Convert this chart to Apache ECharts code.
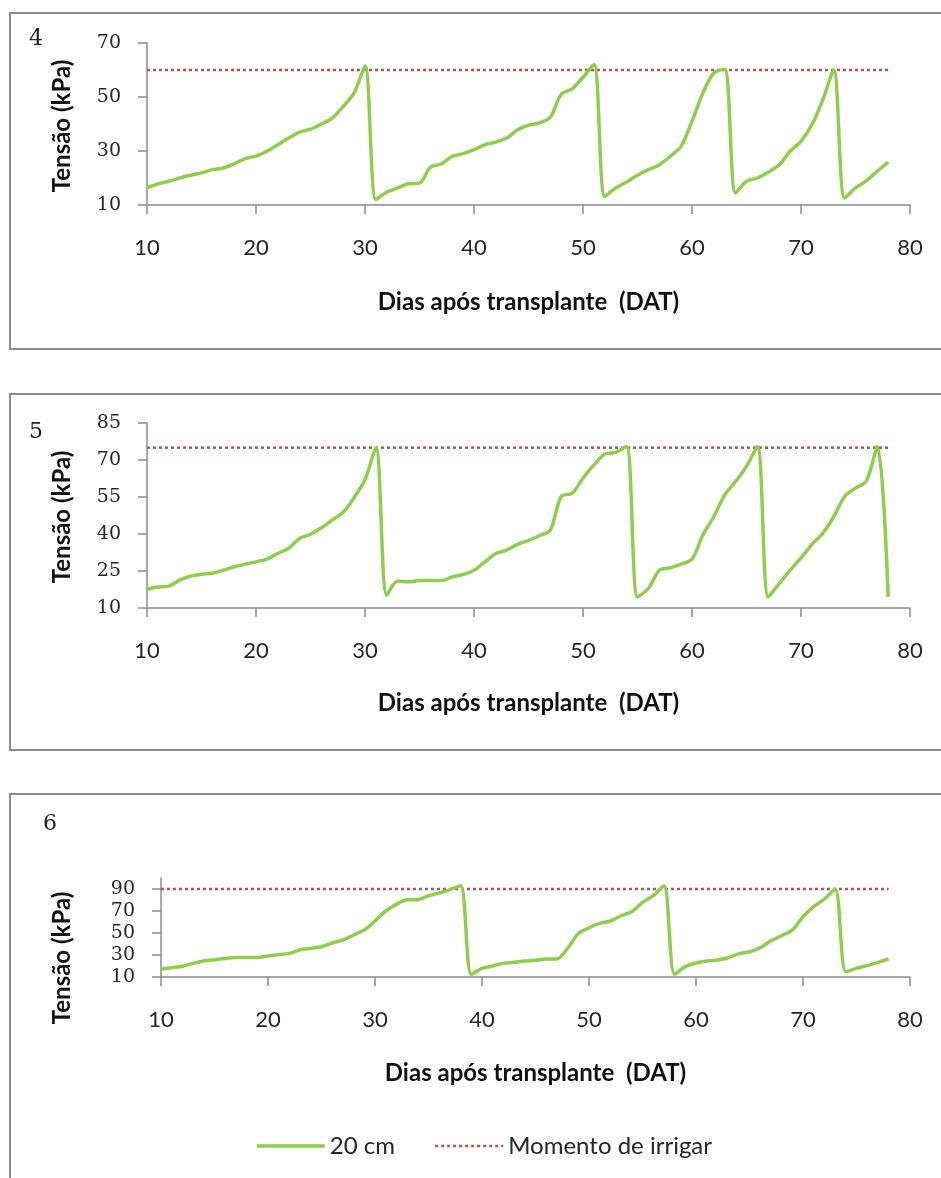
<!DOCTYPE html>
<html>
<head>
<meta charset="utf-8">
<title>Tensão</title>
<script src="https://cdn.jsdelivr.net/npm/echarts@6/dist/echarts.min.js"></script>
<style>
  html, body { margin: 0; padding: 0; background: #fff; }
  #chart { width: 941px; height: 1178px; }
</style>
</head>
<body>
<div id="chart"></div>
<script>
// dias apos transplante
var days = [10, 11, 12, 13, 14, 15, 16, 17, 18, 19, 20, 21, 22, 23, 24, 25, 26, 27, 28, 29,
            30, 31, 32, 33, 34, 35, 36, 37, 38, 39, 40, 41, 42, 43, 44, 45, 46, 47, 48, 49,
            50, 51, 52, 53, 54, 55, 56, 57, 58, 59, 60, 61, 62, 63, 64, 65, 66, 67, 68, 69,
            70, 71, 72, 73, 74, 75, 76, 77, 78];

// tensao (kPa) a 20 cm, um array por grafico
var tensao4 = [16.3, 17.8, 18.8, 20, 21, 21.9, 23.1, 23.7, 25.2, 27.2, 28.1, 29.9, 32.3, 34.8, 37, 38.1, 40, 42.2, 46.5, 51.5,
               61.5, 12, 14.8, 16.3, 17.9, 18.1, 24, 25.2, 28, 29, 30.5, 32.3, 33.3, 34.8, 37.9, 39.5, 40.4, 42.5, 51, 53,
               57.3, 62, 13.2, 16.3, 18.5, 21, 23.1, 24.9, 28, 31.7, 41, 51.5, 58.9, 60.3, 14.4, 18.8, 20, 22.2, 24.9, 29.9,
               33.6, 39.7, 49, 60, 12.6, 16.3, 19, 22.5, 25.9];
var tensao5 = [17.6, 18.5, 18.9, 21.3, 22.9, 23.7, 24.1, 25.3, 26.7, 27.8, 28.7, 29.8, 32.1, 34.2, 38.2, 39.9, 42.5, 45.7, 48.8, 54.8,
               62, 75, 15.2, 20.9, 20.6, 21.1, 21.1, 21.1, 22.6, 23.6, 25.3, 28.7, 32.1, 33.5, 35.8, 37.4, 39.3, 41.6, 55.2, 56.5,
               62.6, 68, 72.4, 73.1, 75.5, 14.5, 17.9, 25.3, 26.3, 27.8, 29.8, 39.6, 47, 55.8, 61.3, 67.4, 75.5, 14.5, 19.9, 25.3,
               30.3, 35.8, 40.3, 47, 55.2, 58.6, 61.5, 75.5, 14.5];
var tensao6 = [17.3, 18.5, 19.7, 22.4, 24.5, 25.7, 26.9, 27.8, 27.8, 27.8, 29.1, 30.3, 31.5, 34.8, 36, 37.5, 40.9, 43.6, 48.2, 52.7,
               60.9, 70, 76, 80.3, 80.3, 83.9, 86.4, 89.4, 93, 12.4, 17.8, 20, 22.4, 23.3, 24.5, 25.2, 26.4, 26.4, 36, 49.6,
               54.8, 58.7, 60.9, 65.7, 69.4, 77.8, 83.9, 93, 12.4, 19.4, 22.7, 24.5, 25.5, 27.5, 31.2, 33, 36.6, 43, 47.5, 52.7,
               64.8, 73.9, 80.9, 90, 14.8, 17.8, 20.3, 23.3, 26.4];

// momento de irrigar (limite) de cada grafico
var limite = [60, 75, 90];
var limiteDias = [10, 78];
var painelLabels = ['4', '5', '6'];

var yMin = [10, 10, 10];
var yMax = [70, 85, 100];
var yInterval = [20, 15, 20];
var yTicks6 = [10, 30, 50, 70, 90];

var verde = '#8fce4c';
var vermelho = '#c0504d';
var cinza = '#8c8c8c';

function pares (xs, ys) {
    return xs.map(function (x, i) { return [x, ys[i]]; });
}

var myChart = echarts.init(document.getElementById('chart'));

var grids = [
    { left: 147, right: 31, top: 43, height: 162 },
    { left: 147, right: 31, top: 423, height: 185 },
    { left: 161, right: 31, top: 878, height: 99 }
];
var nameGaps = [85, 83, 84];
var series = [];
var xAxes = [];
var yAxes = [];
var todas = [tensao4, tensao5, tensao6];

for (var i = 0; i < 3; i++) {
    xAxes.push({
        type: 'value', gridIndex: i, min: 10, max: 80, interval: 10,
        name: 'Dias após transplante  (DAT)', nameLocation: 'middle', nameGap: nameGaps[i],
        nameTextStyle: { fontFamily: 'Lato', fontWeight: 'bold', fontSize: 24, color: '#111' },
        axisLine: { lineStyle: { color: cinza, width: 1.5 } },
        axisTick: { length: 9, lineStyle: { color: cinza, width: 1.5 } },
        axisLabel: { margin: 32, fontFamily: 'Lato', fontSize: 22, color: '#262626' },
        splitLine: { show: false }
    });
    var y = {
        type: 'value', gridIndex: i, min: yMin[i], max: yMax[i], interval: yInterval[i],
        axisLine: { show: true, lineStyle: { color: cinza, width: 1.5 } },
        axisTick: { show: true, length: 9, lineStyle: { color: cinza, width: 1.5 } },
        axisLabel: { margin: 26, fontFamily: 'DejaVu Serif', fontSize: 19, color: '#262626' },
        splitLine: { show: false }
    };
    if (i === 2) {
        y.axisLabel.customValues = yTicks6;
        y.axisTick.customValues = yTicks6;
    }
    yAxes.push(y);

    series.push({
        name: '20 cm', type: 'line', xAxisIndex: i, yAxisIndex: i,
        data: pares(days, todas[i]),
        smooth: 0.3, showSymbol: false, symbol: 'none',
        lineStyle: { color: verde, width: 3.5 },
        itemStyle: { color: verde },
        z: 3
    });
    series.push({
        name: 'Momento de irrigar', type: 'line', xAxisIndex: i, yAxisIndex: i,
        data: pares(limiteDias, [limite[i], limite[i]]),
        showSymbol: false, symbol: 'none',
        lineStyle: { color: vermelho, width: 2.5, type: [3, 3] },
        itemStyle: { color: vermelho },
        z: 2
    });
}

var titulos = [
    { x: 62, y: 126 },
    { x: 62, y: 517 },
    { x: 62, y: 958 }
];
var numeros = [
    { x: 36, y: 39 },
    { x: 36, y: 432 },
    { x: 50, y: 824 }
];
var molduras = [
    { y: 13, h: 336 },
    { y: 394, h: 356 },
    { y: 794, h: 420 }
];

var graphics = [];
for (var k = 0; k < 3; k++) {
    graphics.push({
        type: 'rect', z: -1,
        shape: { x: 10, y: molduras[k].y, width: 945, height: molduras[k].h },
        style: { fill: 'none', stroke: cinza, lineWidth: 2 }
    });
    graphics.push({
        type: 'text', x: titulos[k].x, y: titulos[k].y, rotation: Math.PI / 2,
        style: {
            text: 'Tensão (kPa)', font: 'bold 24px Lato', fill: '#111',
            textAlign: 'center', textVerticalAlign: 'middle'
        }
    });
    graphics.push({
        type: 'text', x: numeros[k].x, y: numeros[k].y,
        style: {
            text: painelLabels[k], font: '22px "DejaVu Serif"', fill: '#222',
            textAlign: 'center', textVerticalAlign: 'middle'
        }
    });
}

var option = {
    animation: false,
    backgroundColor: '#fff',
    grid: grids,
    xAxis: xAxes,
    yAxis: yAxes,
    legend: {
        data: [
            { name: '20 cm', lineStyle: { width: 3.5 } },
            { name: 'Momento de irrigar', lineStyle: { width: 2.5 } }
        ],
        left: 255, top: 1134, padding: 0,
        itemWidth: 68, itemHeight: 14, itemGap: 39,
        itemStyle: { opacity: 0 },
        textStyle: { fontFamily: 'Lato', fontSize: 24, color: '#262626' }
    },
    graphic: graphics,
    series: series
};

myChart.setOption(option);
</script>
</body>
</html>
